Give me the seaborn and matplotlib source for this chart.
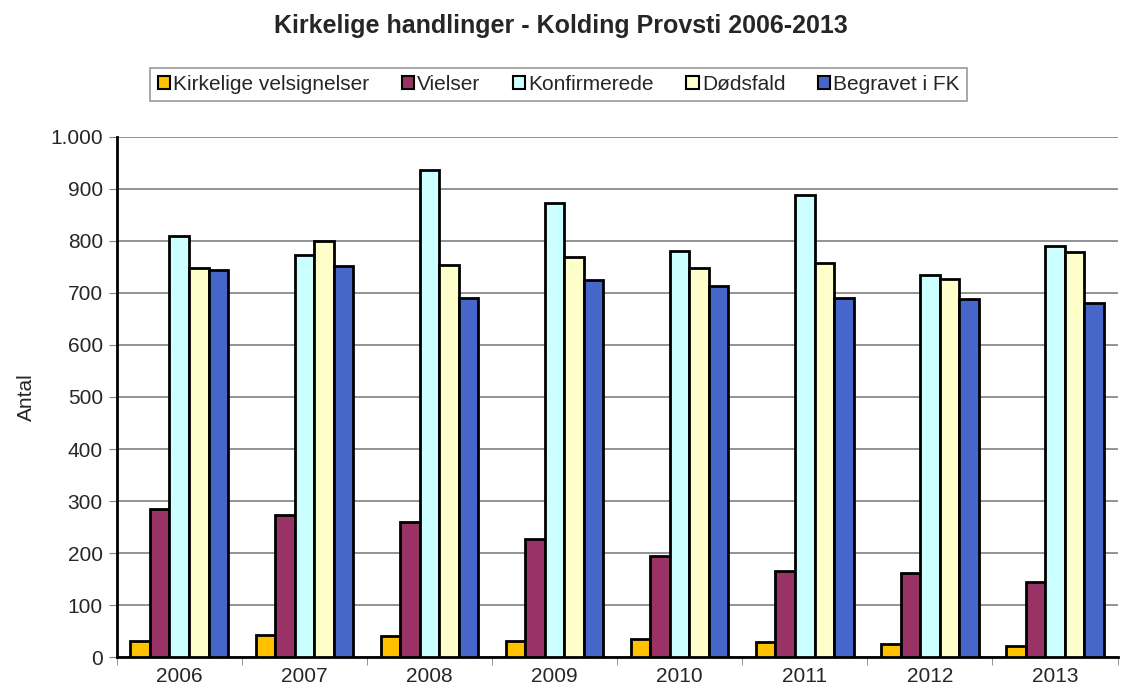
import pandas as pd
import matplotlib
matplotlib.use("Agg")
import matplotlib.pyplot as plt
import matplotlib.ticker as mticker
import seaborn as sns

years = ["2006", "2007", "2008", "2009", "2010", "2011", "2012", "2013"]
series = ["Kirkelige velsignelser", "Vielser", "Konfirmerede", "Dødsfald", "Begravet i FK"]
velsignelser = [31, 42, 40, 31, 34, 29, 26, 21]
vielser = [285, 274, 260, 228, 195, 166, 162, 144]
konfirmerede = [809, 773, 936, 872, 781, 889, 735, 790]
doedsfald = [747, 799, 753, 769, 748, 757, 726, 778]
begravet = [745, 752, 691, 724, 713, 691, 688, 681]
colors = ["#FFC000", "#993366", "#CCFFFF", "#FFFFCC", "#4766C9"]

values = [velsignelser, vielser, konfirmerede, doedsfald, begravet]
rows = []
for name, vals in zip(series, values):
    for y, v in zip(years, vals):
        rows.append({"year": y, "serie": name, "antal": v})
df = pd.DataFrame(rows)

sns.set_style("white")
plt.rcParams['font.family'] = ['Liberation Sans', 'DejaVu Sans']

fig = plt.figure(figsize=(11.22, 6.91), dpi=100, facecolor='white')
ax = fig.add_axes([0.104, 0.049, 0.892, 0.753])

sns.barplot(data=df, x="year", y="antal", hue="serie", hue_order=series, order=years,
            palette=colors, width=0.78, edgecolor="black", linewidth=2, saturation=1,
            ax=ax, zorder=3, legend=False)

ax.set_ylim(0, 1000)
ax.set_xlim(-0.5, 7.5)
ax.yaxis.set_major_locator(mticker.MultipleLocator(100))
ax.yaxis.set_major_formatter(mticker.FuncFormatter(lambda v, p: f"{int(v):,}".replace(",", ".")))
ax.grid(axis='y', color='#808080', linewidth=1.2, zorder=0)
ax.set_axisbelow(True)

for s in ["top", "right"]:
    ax.spines[s].set_visible(False)
for s in ["left", "bottom"]:
    ax.spines[s].set_color("black")
    ax.spines[s].set_linewidth(2)

ax.tick_params(axis='y', which='major', direction='out', length=6, color='#808080', labelsize=15, pad=4, left=True)
ax.tick_params(axis='x', which='major', length=0, labelsize=15, pad=7)
ax.set_xticks([i + 0.5 for i in range(-1, 8)], minor=True)
ax.tick_params(axis='x', which='minor', direction='out', length=6, color='#808080', bottom=True)

ax.set_xlabel("")
ax.set_ylabel("Antal", fontsize=15, labelpad=10)

fig.text(0.5, 0.962, "Kirkelige handlinger - Kolding Provsti 2006-2013", ha='center', va='center',
         fontsize=18, fontweight='bold')

handles = [plt.Rectangle((0, 0), 1, 1, facecolor=c, edgecolor='black', linewidth=1.5) for c in colors]
leg = fig.legend(handles, series, loc='center', bbox_to_anchor=(0.498, 0.878), ncol=5, fontsize=15,
                 frameon=True, fancybox=False, edgecolor='#808080', handlelength=0.6, handleheight=0.6,
                 handletextpad=0.15, columnspacing=1.55, borderpad=0.35, borderaxespad=0)
leg.get_frame().set_linewidth(1.2)

fig.savefig("out.png", dpi=100, facecolor='white')
